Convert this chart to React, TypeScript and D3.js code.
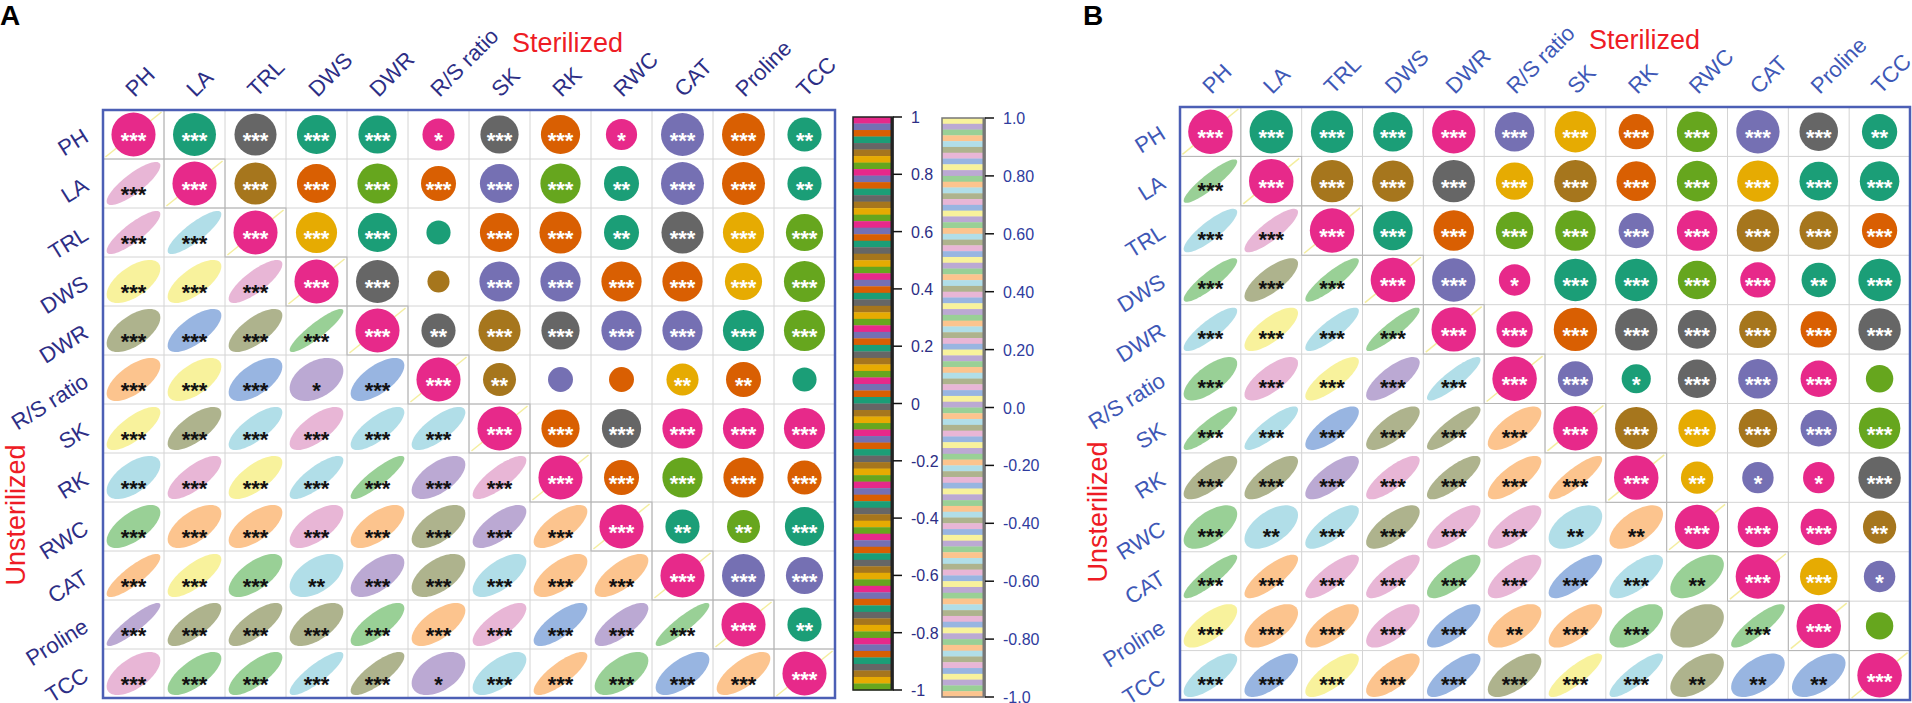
import * as d3 from 'd3';

// variables (same order on both axes)
const vars = ['PH', 'LA', 'TRL', 'DWS', 'DWR', 'R/S ratio', 'SK', 'RK', 'RWC', 'CAT', 'Proline', 'TCC'];

// Dark2 colours for the circles, pastel colours for the ellipses
const dark: Record<string, string> = {
  T: '#1B9E77', O: '#D95F02', P: '#7570B3', K: '#E7298A',
  G: '#66A61E', Y: '#E6AB02', B: '#A6761D', A: '#666666',
};
const pastel: Record<string, string> = {
  k: '#E8B6D6', c: '#B1DEE8', y: '#F8F29C', o: '#AEB38D',
  b: '#98B5E1', r: '#FCC48E', g: '#99D096', l: '#BBA9D3',
};
const darkStripe = 'KPOTABYG';
const pastelStripe = 'ylgrcokb';

// ---- panel A ----
// sterilized (upper triangle), row i, columns i+1..11
const sterA_r = [
  [0.95, 0.91, 0.79, 0.75, 0.53, 0.75, 0.79, 0.5, 0.95, 0.95, 0.6],
  [0.91, 0.79, 0.83, 0.63, 0.79, 0.83, 0.63, 0.95, 0.95, 0.6],
  [0.87, 0.79, 0.3, 0.79, 0.91, 0.63, 0.91, 0.87, 0.71],
  [0.95, 0.25, 0.83, 0.83, 0.83, 0.83, 0.71, 0.87],
  [0.6, 0.91, 0.75, 0.83, 0.83, 0.87, 0.87],
  [0.56, 0.32, 0.32, 0.53, 0.63, 0.3],
  [0.75, 0.79, 0.83, 0.87, 0.87],
  [0.63, 0.83, 0.83, 0.6],
  [0.6, 0.56, 0.79],
  [0.95, 0.71],
  [0.6],
];
const sterA_col = ['TATTKAOKPOT', 'BOGOPGTPOT', 'YTTOOTAYG', 'ABPPOOYG', 'ABAPPTG', 'BPOYOT', 'OAKKK', 'OGOO', 'TGT', 'PP', 'T'];
const sterA_sig = ['33331331332', '3333332332', '330332333', '30333333', '2333333', '200220', '33333', '3333', '223', '33', '2'];

// unsterilized (lower triangle), row i (from LA), columns 0..i-1
const unstA_r = [
  [0.83],
  [0.85, 0.85],
  [0.6, 0.7, 0.8],
  [0.6, 0.7, 0.7, 0.9],
  [0.65, 0.6, 0.6, 0.4, 0.65],
  [0.75, 0.7, 0.75, 0.7, 0.75, 0.75],
  [0.6, 0.75, 0.7, 0.8, 0.88, 0.6, 0.8],
  [0.65, 0.6, 0.65, 0.65, 0.65, 0.6, 0.7, 0.7],
  [0.85, 0.75, 0.65, 0.5, 0.6, 0.55, 0.65, 0.65, 0.7],
  [0.9, 0.75, 0.75, 0.6, 0.75, 0.65, 0.75, 0.75, 0.75, 0.9],
  [0.6, 0.7, 0.75, 0.85, 0.8, 0.45, 0.65, 0.8, 0.6, 0.65, 0.7],
];
const unstA_col = ['k', 'kc', 'yyk', 'obog', 'ryblb', 'yockcc', 'ckycglk', 'grrkrolr', 'rygclocrr', 'looogrkblg', 'kggcolcrgbr'];
const unstA_sig = ['3', '33', '333', '3333', '33313', '333333', '3333333', '33333333', '333233333', '3333333333', '33333133333'];

// ---- panel B ----
const sterB_r = [
  [0.95, 0.91, 0.79, 0.95, 0.79, 0.87, 0.63, 0.83, 0.95, 0.75, 0.63],
  [0.91, 0.87, 0.91, 0.71, 0.91, 0.79, 0.83, 0.87, 0.75, 0.79],
  [0.79, 0.83, 0.71, 0.83, 0.63, 0.83, 0.91, 0.75, 0.63],
  [0.95, 0.5, 0.91, 0.91, 0.75, 0.63, 0.6, 0.91],
  [0.67, 0.95, 0.91, 0.75, 0.71, 0.67, 0.91],
  [0.63, 0.43, 0.75, 0.79, 0.67, 0.38],
  [0.91, 0.71, 0.75, 0.67, 0.87],
  [0.53, 0.5, 0.5, 0.91],
  [0.83, 0.67, 0.56],
  [0.71, 0.5],
  [0.38],
];
const sterB_col = ['TTTKPYOGPAT', 'BBAYBOGYTT', 'TOGGPKBBO', 'PKTTGKTT', 'KOAABOA', 'PTAPKG', 'BYBPG', 'YPKA', 'KKB', 'YP', 'G'];
const sterB_sig = ['33333333332', '3333333333', '333333333', '31333323', '3333333', '313330', '33333', '2113', '332', '31', '0'];

const unstB_r = [
  [0.9],
  [0.85, 0.85],
  [0.88, 0.75, 0.88],
  [0.85, 0.75, 0.85, 0.9],
  [0.7, 0.72, 0.8, 0.75, 0.88],
  [0.88, 0.85, 0.75, 0.75, 0.85, 0.7],
  [0.75, 0.75, 0.75, 0.8, 0.8, 0.75, 0.85],
  [0.6, 0.55, 0.75, 0.7, 0.75, 0.72, 0.5, 0.6],
  [0.88, 0.8, 0.8, 0.8, 0.75, 0.7, 0.75, 0.7, 0.55],
  [0.7, 0.6, 0.7, 0.7, 0.75, 0.6, 0.7, 0.6, 0.4, 0.85],
  [0.75, 0.7, 0.75, 0.7, 0.75, 0.65, 0.85, 0.85, 0.55, 0.55, 0.55],
];
const unstB_col = ['g', 'ck', 'gog', 'cycg', 'gkylc', 'gcboor', 'oolkorr', 'gccokkcr', 'grkkgkbcg', 'yrrkbrrgog', 'cbyrboycobb'];
const unstB_sig = ['3', '33', '333', '3333', '33333', '333333', '3333333', '32333322', '333333332', '3333323303', '33333333222'];

// colour-bar tick labels
const ticksA = ['1', '0.8', '0.6', '0.4', '0.2', '0', '-0.2', '-0.4', '-0.6', '-0.8', '-1'];
const ticksB = ['1.0', '0.80', '0.60', '0.40', '0.20', '0.0', '-0.20', '-0.40', '-0.60', '-0.80', '-1.0'];

const FONT = "'Liberation Sans', Arial, sans-serif";

function ellipsePath(cx: number, cy: number, rx: number, ry: number, r: number) {
  const d = Math.acos(r);
  const pts: [number, number][] = d3.range(72).map(k => {
    const t = (k / 72) * 2 * Math.PI;
    return [cx + rx * Math.cos(t + d / 2), cy - ry * Math.cos(t - d / 2)];
  });
  return d3.line().curve(d3.curveLinearClosed)(pts) || '';
}

function Stars({ x, y, n, fill }: { x: number; y: number; n: number; fill: string }) {
  if (!n) return null;
  const fs = 22;
  return (
    <text x={x} y={y + fs * 0.57} textAnchor="middle" fontSize={fs} fontFamily={FONT} fontWeight="bold" fill={fill}>
      {'*'.repeat(n)}
    </text>
  );
}

interface PanelProps {
  x0: number; x1: number; y0: number; y1: number;
  upR: number[][]; upCol: string[]; upSig: string[];
  loR: number[][]; loCol: string[]; loSig: string[];
  labelColor: string;
  unstX: number; unstY: number;
  letter: string; letterX: number;
  starDy: number;
}

function Panel(p: PanelProps) {
  const idx = d3.range(vars.length);
  const x = d3.scaleBand<number>().domain(idx).range([p.x0, p.x1]);
  const y = d3.scaleBand<number>().domain(idx).range([p.y0, p.y1]);
  const cw = x.bandwidth();
  const ch = y.bandwidth();
  const rad = d3.scaleSqrt().domain([0, 1]).range([0, 0.45 * Math.min(cw, ch)]);

  const cells: JSX.Element[] = [];
  idx.forEach(i => {
    idx.forEach(j => {
      const cx = x(j)! + cw / 2;
      const cy = y(i)! + ch / 2;
      const key = `${i}-${j}`;
      if (i === j) {
        cells.push(
          <g key={key}>
            <rect x={x(j)} y={y(i)} width={cw} height={ch} fill="none" stroke="#b4b4b4" strokeWidth={1} />
            <line x1={cx - 0.46 * cw} y1={cy + 0.46 * ch} x2={cx + 0.46 * cw} y2={cy - 0.46 * ch} stroke="#F4EE9E" strokeWidth={1.5} />
            <circle cx={cx} cy={cy} r={rad(1)} fill={dark.K} />
            <Stars x={cx} y={cy + 1} n={3} fill="#fff" />
          </g>
        );
      } else if (i < j) {
        const k = j - i - 1;
        cells.push(
          <g key={key}>
            <circle cx={cx} cy={cy} r={rad(p.upR[i][k])} fill={dark[p.upCol[i][k]]} />
            <Stars x={cx} y={cy + 1} n={+p.upSig[i][k]} fill="#fff" />
          </g>
        );
      } else {
        const r = p.loR[i - 1][j];
        cells.push(
          <g key={key}>
            <path d={ellipsePath(cx, cy, 0.44 * cw, 0.44 * ch, r)} fill={pastel[p.loCol[i - 1][j]]} />
            <Stars x={cx} y={cy + p.starDy} n={+p.loSig[i - 1][j]} fill="#111" />
          </g>
        );
      }
    });
  });

  return (
    <g>
      {/* grid lines */}
      {d3.range(1, vars.length).map(k => (
        <g key={'g' + k}>
          <line x1={x(k)} x2={x(k)} y1={p.y0} y2={p.y1} stroke="#d4d4d4" strokeWidth={1} />
          <line x1={p.x0} x2={p.x1} y1={y(k)} y2={y(k)} stroke="#d4d4d4" strokeWidth={1} />
        </g>
      ))}
      {cells}
      <rect x={p.x0} y={p.y0} width={p.x1 - p.x0} height={p.y1 - p.y0} fill="none" stroke="#4C5FB5" strokeWidth={2.5} />

      {/* column labels */}
      {vars.map((v, j) => (
        <text key={'c' + v} transform={`translate(${x(j)! + cw / 2 + 1},${p.y0 - 12}) rotate(-45)`} fontSize={22} fontFamily={FONT} fill={p.labelColor}>
          {v}
        </text>
      ))}
      {/* row labels */}
      {vars.map((v, i) => (
        <text key={'r' + v} textAnchor="end" transform={`translate(${p.x0 - 13},${y(i)! + ch / 2 + 6}) rotate(-32)`} fontSize={22} fontFamily={FONT} fill={p.labelColor}>
          {v}
        </text>
      ))}

      <text x={p.x0 + 409} y={p.y0 - 58} fontSize={27} fontFamily={FONT} fill="#EE1C25">Sterilized</text>
      <text transform={`translate(${p.unstX},${p.unstY}) rotate(-90)`} textAnchor="middle" fontSize={27} fontFamily={FONT} fill="#EE1C25">
        Unsterilized
      </text>
      <text x={p.letterX} y={25} fontSize={28} fontWeight="bold" fontFamily={FONT} fill="#000">{p.letter}</text>
    </g>
  );
}

function ColorBar({ x0, x1, y0, y1, n, codes, palette, ticks, border, tickColor }: {
  x0: number; x1: number; y0: number; y1: number; n: number; codes: string; palette: Record<string, string>;
  ticks: string[]; border: string; tickColor: string;
}) {
  const s = d3.scaleLinear().domain([0, n]).range([y0, y1]);
  const t = d3.scaleLinear().domain([1, -1]).range([y0, y1]);
  const vals = d3.range(ticks.length).map(k => 1 - k * 0.2);
  return (
    <g>
      {d3.range(n).map(k => (
        <rect key={k} x={x0} y={s(k)} width={x1 - x0} height={s(k + 1) - s(k) + 0.3} fill={palette[codes[k % codes.length]]} />
      ))}
      <rect x={x0} y={y0} width={x1 - x0} height={y1 - y0} fill="none" stroke={border} strokeWidth={1.5} />
      <line x1={x1 - 1} x2={x1 - 1} y1={y0} y2={y1} stroke={border} strokeWidth={3} />
      {vals.map((v, k) => (
        <g key={k}>
          <line x1={x1} x2={x1 + 9} y1={t(v)} y2={t(v)} stroke="#111" strokeWidth={1.5} />
          <text x={x1 + 18} y={t(v) + 6} fontSize={16} fontFamily={FONT} fill={tickColor}>{ticks[k]}</text>
        </g>
      ))}
    </g>
  );
}

export default function App() {
  return (
    <svg width={1912} height={703} style={{ position: 'absolute', left: 0, top: 0, background: '#fff' }}>
      <rect width={1912} height={703} fill="#fff" />
      <Panel
        x0={103} x1={835} y0={110} y1={698}
        upR={sterA_r} upCol={sterA_col} upSig={sterA_sig}
        loR={unstA_r} loCol={unstA_col} loSig={unstA_sig}
        labelColor="#2D2E85" unstX={25} unstY={515} letter="A" letterX={0} starDy={6}
      />
      <ColorBar x0={853} x1={893} y0={117} y1={690} n={88} codes={darkStripe} palette={dark} ticks={ticksA} border="#222" tickColor="#2D2E85" />
      <ColorBar x0={942} x1={985} y0={118} y1={697} n={100} codes={pastelStripe} palette={pastel} ticks={ticksB} border="#777" tickColor="#2F3C9E" />
      <Panel
        x0={1180} x1={1910} y0={107} y1={700}
        upR={sterB_r} upCol={sterB_col} upSig={sterB_sig}
        loR={unstB_r} loCol={unstB_col} loSig={unstB_sig}
        labelColor="#3E58B6" unstX={1107} unstY={512} letter="B" letterX={1083} starDy={4}
      />
    </svg>
  );
}
